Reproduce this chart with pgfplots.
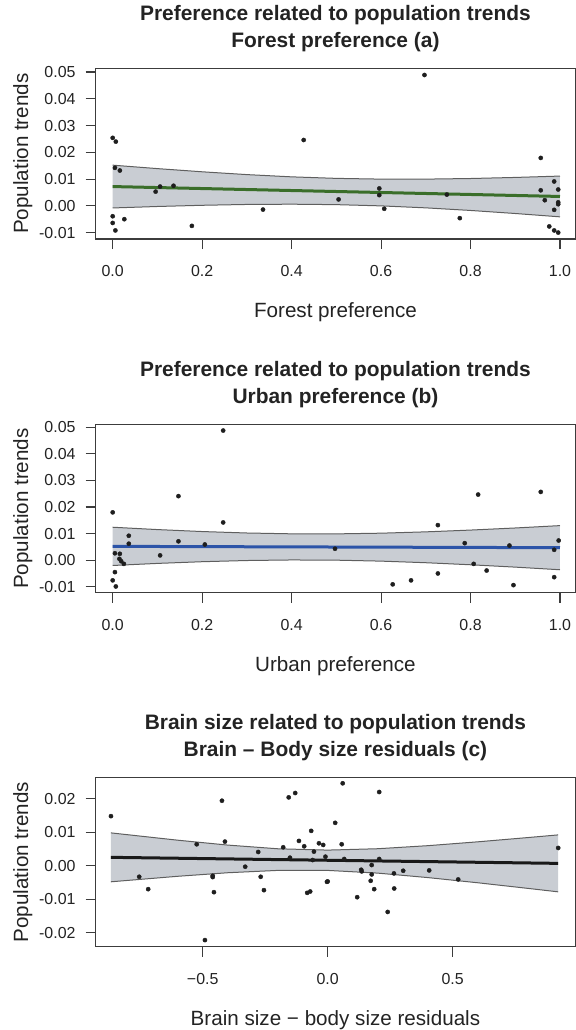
\documentclass[border=0pt]{standalone}
\usepackage{pgfplots}
\pgfplotsset{compat=1.18}
\usepackage{pgfplotstable}
\usepgfplotslibrary{fillbetween}
\usepackage{fontspec}
\setmainfont{Liberation Sans}

\definecolor{bandfill}{RGB}{201,205,211}
\definecolor{bandedge}{RGB}{95,95,95}
\definecolor{fitgreen}{RGB}{58,110,42}
\definecolor{fitblue}{RGB}{44,84,168}
\definecolor{fitblack}{RGB}{25,25,25}
\definecolor{ptcol}{RGB}{30,30,30}
\definecolor{axisgray}{RGB}{60,60,60}
\definecolor{textgray}{RGB}{35,35,35}

\newcommand\tickfont{\fontsize{16}{19}\selectfont}
\newcommand\labfont{\fontsize{20.7}{24}\selectfont}
\newcommand\titlefont{\bfseries\fontsize{21}{27}\selectfont}

% confidence bands of the fitted lines
\pgfplotstableread{
x    up       lo
0.0  0.01520 -0.00080
0.1  0.01391 -0.00025
0.2  0.01272  0.00020
0.3  0.01167  0.00051
0.4  0.01083  0.00061
0.5  0.01026  0.00044
0.6  0.00998 -0.00002
0.7  0.00998 -0.00076
0.8  0.01021 -0.00173
0.9  0.01061 -0.00287
1.0  0.01112 -0.00412
}\bandA
\pgfplotstableread{
x    up       lo
0.0  0.01240 -0.00200
0.1  0.01152 -0.00122
0.2  0.01078 -0.00058
0.3  0.01023 -0.00013
0.4  0.00992  0.00008
0.5  0.00990  0.00000
0.6  0.01016 -0.00036
0.7  0.01066 -0.00096
0.8  0.01133 -0.00173
0.9  0.01212 -0.00262
1.0  0.01301 -0.00361
}\bandB
\pgfplotstableread{
x       up       lo
-0.867  0.00980 -0.00480
-0.6    0.00762 -0.00316
-0.4    0.00616 -0.00210
-0.2    0.00506 -0.00140
 0.0    0.00466 -0.00140
 0.2    0.00507 -0.00221
 0.4    0.00598 -0.00354
 0.6    0.00713 -0.00509
 0.8    0.00840 -0.00676
 0.922  0.00920 -0.00780
}\bandC

\pgfplotsset{
  panel/.style={
    scale only axis, width=479.5bp, anchor=north west,
    scaled ticks=false,
    axis line style={draw=axisgray, line width=1.2bp},
    tick align=outside, xtick pos=left, ytick pos=left,
    major tick length=10bp,
    tick style={draw=axisgray, line width=1.1bp},
    yticklabel style={font=\tickfont, text=textgray, inner sep=0pt, xshift=-10bp},
    xticklabel style={font=\tickfont, text=textgray, inner sep=0pt, yshift=-16bp},
    title style={at={(axis description cs:0.5,1)}, anchor=north, yshift=57bp,
                 inner sep=0pt, align=center, font=\titlefont, text=textgray},
    xlabel style={at={(axis description cs:0.5,0)}, anchor=base, yshift=-78.5bp,
                  inner sep=0pt, font=\labfont, text=textgray},
    ylabel style={at={(axis description cs:-0.1522,0.5)}, anchor=center,
                  inner sep=0pt, font=\labfont, text=textgray},
    ylabel={Population trends},
  },
  prefx/.style={
    xmin=-0.038, xmax=1.034,
    xtick={0,0.2,0.4,0.6,0.8,1},
    xticklabels={0.0,0.2,0.4,0.6,0.8,1.0},
    ytick={-0.01,0,0.01,0.02,0.03,0.04,0.05},
    yticklabels={-0.01,0.00,0.01,0.02,0.03,0.04,0.05},
  },
  pts/.style={only marks, mark=*, mark size=2.1bp, color=ptcol},
  edge/.style={draw=bandedge, line width=1bp},
}

\begin{document}
\begin{tikzpicture}

% (a) forest preference
\begin{axis}[panel, prefx,
  at={(95.7bp,-68.3bp)}, height=170.7bp,
  ymin=-0.0124, ymax=0.0514,
  title={Preference related to population trends\\Forest preference (a)},
  xlabel={Forest preference}]
\addplot[name path=upA, edge] table[x=x, y=up] {\bandA};
\addplot[name path=loA, edge] table[x=x, y=lo] {\bandA};
\addplot[bandfill] fill between[of=upA and loA];
\addplot[fitgreen, line width=3bp] coordinates {(0,0.0072) (1,0.0035)};
\addplot[pts] coordinates {
(0.000,0.0254) (0.007,0.0240) (0.005,0.0142) (0.016,0.0132)
(0.096,0.0053) (0.106,0.0072) (0.136,0.0075) (0.000,-0.0039)
(0.000,-0.0064) (0.006,-0.0092) (0.026,-0.0050) (0.177,-0.0075)
(0.336,-0.0014) (0.427,0.0246) (0.505,0.0024) (0.697,0.0489)
(0.596,0.0065) (0.596,0.0040) (0.607,-0.0011) (0.747,0.0042)
(0.776,-0.0046) (0.957,0.0179) (0.957,0.0058) (0.966,0.0021)
(0.987,0.0091) (0.996,0.0061) (0.987,-0.0015) (0.996,0.0013)
(0.996,0.0006) (0.976,-0.0077) (0.987,-0.0092) (0.996,-0.0100)
};
\end{axis}

% (b) urban preference
\begin{axis}[panel, prefx,
  at={(95.7bp,-424.3bp)}, height=168.4bp,
  ymin=-0.01225, ymax=0.05115,
  title={Preference related to population trends\\Urban preference (b)},
  xlabel={Urban preference}]
\addplot[name path=upB, edge] table[x=x, y=up] {\bandB};
\addplot[name path=loB, edge] table[x=x, y=lo] {\bandB};
\addplot[bandfill] fill between[of=upB and loB];
\addplot[fitblue, line width=3bp] coordinates {(0,0.0052) (1,0.0047)};
\addplot[pts] coordinates {
(0.000,0.0180) (0.036,0.0092) (0.036,0.0062) (0.005,0.0026)
(0.016,0.0024) (0.015,0.0005) (0.019,-0.0004) (0.025,-0.0014)
(0.005,-0.0045) (0.000,-0.0076) (0.007,-0.0099) (0.106,0.0018)
(0.147,0.0071) (0.147,0.0241) (0.206,0.0059) (0.247,0.0488)
(0.247,0.0142) (0.497,0.0043) (0.626,-0.0091) (0.667,-0.0076)
(0.727,-0.0050) (0.727,0.0132) (0.787,0.0064) (0.817,0.0247)
(0.807,-0.0014) (0.836,-0.0039) (0.887,0.0055) (0.896,-0.0094)
(0.957,0.0257) (0.997,0.0074) (0.987,0.0039) (0.987,-0.0064)
};
\end{axis}

% (c) relative brain size
\begin{axis}[panel,
  at={(95.7bp,-777.3bp)}, height=169.4bp,
  xmin=-0.928, xmax=0.99,
  ymin=-0.02418, ymax=0.02639,
  xtick={-0.5,0,0.5}, xticklabels={−0.5,0.0,0.5},
  ytick={-0.02,-0.01,0,0.01,0.02},
  yticklabels={-0.02,-0.01,0.00,0.01,0.02},
  title={Brain size related to population trends\\Brain – Body size residuals (c)},
  xlabel={Brain size − body size residuals}]
\addplot[name path=upC, edge] table[x=x, y=up] {\bandC};
\addplot[name path=loC, edge] table[x=x, y=lo] {\bandC};
\addplot[bandfill] fill between[of=upC and loC];
\addplot[fitblack, line width=3bp] coordinates {(-0.867,0.0025) (0.922,0.0007)};
\addplot[pts] coordinates {
(-0.867,0.0148) (-0.754,-0.0033) (-0.718,-0.0070) (-0.524,0.0064)
(-0.423,0.0194) (-0.411,0.0072) (-0.460,-0.0030) (-0.460,-0.0034)
(-0.455,-0.0079) (-0.491,-0.0222) (-0.330,-0.0003) (-0.278,0.0041)
(-0.268,-0.0033) (-0.255,-0.0073) (-0.178,0.0055) (-0.151,0.0024)
(-0.156,0.0204) (-0.130,0.0217) (-0.115,0.0074) (-0.094,0.0058)
(-0.082,-0.0081) (-0.070,-0.0077) (-0.066,0.0104) (-0.055,0.0042)
(-0.060,0.0017) (-0.035,0.0067) (-0.018,0.0062) (-0.009,0.0027)
(-0.003,-0.0048) (0.000,-0.0047) (0.030,0.0128) (0.060,0.0246)
(0.206,0.0220) (0.056,0.0064) (0.066,0.0020) (0.134,-0.0012)
(0.136,-0.0017) (0.118,-0.0094) (0.176,0.0002) (0.176,-0.0026)
(0.172,-0.0045) (0.186,-0.0070) (0.206,0.0020) (0.240,-0.0138)
(0.265,-0.0023) (0.266,-0.0068) (0.302,-0.0015) (0.406,-0.0014)
(0.522,-0.0041) (0.922,0.0053)
};
\end{axis}

% page frame
\pgfresetboundingbox
\path[use as bounding box] (0,0) rectangle (576bp,-1030bp);
\end{tikzpicture}
\end{document}
